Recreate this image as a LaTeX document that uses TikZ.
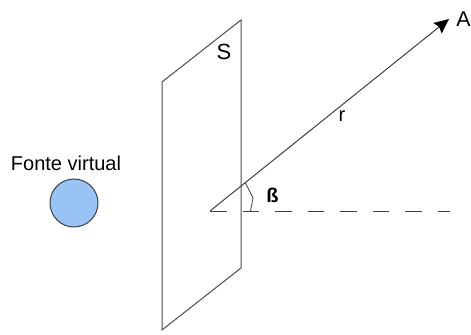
\documentclass[tikz,border=0pt]{standalone}
\usepackage{fontspec}
\setmainfont{Liberation Sans}
\usetikzlibrary{arrows.meta}
\definecolor{fontefill}{HTML}{99C2F5}
\tikzset{
  px/.style={x=0.75pt,y=-0.75pt},
  plane/.style={draw=black!70,line width=0.75pt},
  ray/.style={draw=black!75,line width=0.75pt},
  lbl/.style={inner sep=0pt,font=\fontsize{15pt}{17pt}\selectfont,text=black},
}
\begin{document}
\begin{tikzpicture}[px]
\useasboundingbox (0,0) rectangle (471,335);
\fill[white] (0,0) rectangle (471,335);
\coordinate (p1) at (241,20);
\coordinate (p2) at (241,268);
\coordinate (p3) at (162,330);
\coordinate (p4) at (162,82);
\draw[plane] (p1) -- (p2) -- (p3) -- (p4) -- cycle;
\coordinate (O) at (210,211);
\coordinate (A) at (449,19);
\coordinate (E) at (450,211);
\draw[ray,-{Stealth[length=11pt,width=10pt,inset=1.5pt,black]}] (O) -- (A);
\draw[ray,dash pattern=on 12.6pt off 11.8pt] (O) -- (E);
\coordinate (a1) at (245,182);
\coordinate (a2) at (253,198);
\coordinate (a3) at (250.5,211);
\draw[ray,line width=0.6pt] (a1) -- (a2) -- (a3);
\node[circle,draw=black!75,fill=fontefill,minimum size=36pt,inner sep=0pt,line width=0.75pt] (fonte) at (74,203) {};
\node[lbl] (ft) at (66,163) {Fonte virtual};
\node[lbl,font=\fontsize{16.5pt}{17pt}\selectfont] (S) at (224,52) {S};
\node[lbl,font=\fontsize{16pt}{17pt}\selectfont] (Alab) at (463.5,19.5) {A};
\node[lbl] (r) at (342,116.5) {r};
\node[lbl,font=\fontsize{15pt}{17pt}\bfseries] (b) at (272.5,195) {ß};
\end{tikzpicture}
\end{document}
